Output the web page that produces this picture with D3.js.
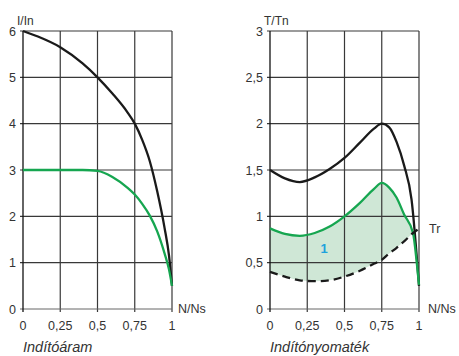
<!DOCTYPE html>
<html>
<head>
<meta charset="utf-8">
<script src="https://cdn.jsdelivr.net/npm/d3@7"></script>
<style>
body { margin: 0; background: #fff; }
text { font-family: "Liberation Sans", Arial, sans-serif; fill: #333; }
</style>
</head>
<body>
<script>
// starting current, I/In against N/Ns
var speedL = [0, 0.1, 0.25, 0.4, 0.5, 0.6, 0.7, 0.75, 0.8, 0.85, 0.9, 0.95, 0.98, 1];
var currentDirect = [6, 5.88, 5.65, 5.3, 5.0, 4.65, 4.25, 4.0, 3.65, 3.2, 2.55, 1.75, 1.15, 0.5];
var currentSoft = [3, 3, 3, 3, 2.98, 2.85, 2.62, 2.47, 2.27, 2.02, 1.68, 1.2, 0.85, 0.5];

// starting torque, T/Tn against N/Ns
var speedR1 = [0, 0.1, 0.2, 0.3, 0.4, 0.5, 0.6, 0.7, 0.75, 0.8, 0.85, 0.9, 0.95, 1];
var torqueDirect = [1.5, 1.41, 1.37, 1.42, 1.51, 1.63, 1.79, 1.95, 2.0, 1.96, 1.8, 1.55, 1.18, 0.25];
var speedR2 = [0, 0.1, 0.2, 0.3, 0.4, 0.5, 0.6, 0.7, 0.75, 0.8, 0.85, 0.9, 0.96, 0.985, 1];
var torqueSoft = [0.87, 0.81, 0.79, 0.82, 0.89, 1.0, 1.14, 1.3, 1.36, 1.31, 1.2, 1.02, 0.82, 0.5, 0.26];
var torqueLoad = [0.4, 0.35, 0.31, 0.3, 0.31, 0.35, 0.41, 0.49, 0.53, 0.6, 0.66, 0.73, 0.82, 0.85, 0.87];
var crossAt = 0.96;

var xTicks = [0, 0.25, 0.5, 0.75, 1];
var yTicksL = [0, 1, 2, 3, 4, 5, 6];
var yTicksR = [0, 0.5, 1, 1.5, 2, 2.5, 3];

var fmt = function(d){ return String(d).replace(".", ","); };

var svg = d3.select("body").append("svg")
	.attr("width", 459)
	.attr("height", 356);

function panel(x0, yMax, yTicks, yTitle, title, xTitleX){
	var x = d3.scaleLinear().domain([0, 1]).range([x0, x0 + 149]);
	var y = d3.scaleLinear().domain([0, yMax]).range([309, 31]);
	var g = svg.append("g");

	// grid
	g.selectAll(".vg").data(xTicks.slice(1)).enter().append("line")
		.attr("x1", function(d){ return x(d); })
		.attr("x2", function(d){ return x(d); })
		.attr("y1", y(yMax)).attr("y2", y(0) + 3)
		.attr("stroke", "#383838").attr("stroke-width", 1.2);
	g.selectAll(".hg").data(yTicks.slice(1)).enter().append("line")
		.attr("x1", x(0) - 3).attr("x2", x(1))
		.attr("y1", function(d){ return y(d); })
		.attr("y2", function(d){ return y(d); })
		.attr("stroke", "#383838").attr("stroke-width", 1.2);
	// x axis baseline
	g.append("line")
		.attr("x1", x(0) - 3).attr("x2", x(1))
		.attr("y1", y(0)).attr("y2", y(0))
		.attr("stroke", "#666").attr("stroke-width", 1);
	// y axis
	g.append("line")
		.attr("x1", x(0)).attr("x2", x(0))
		.attr("y1", y(yMax)).attr("y2", y(0) + 3)
		.attr("stroke", "#111").attr("stroke-width", 1.3);

	g.selectAll(".yl").data(yTicks).enter().append("text")
		.attr("x", x(0) - 7)
		.attr("y", function(d){ return y(d) + 4.5; })
		.attr("text-anchor", "end")
		.style("font-size", "12.5px")
		.text(fmt);
	g.selectAll(".xl").data(xTicks).enter().append("text")
		.attr("x", function(d){ return x(d); })
		.attr("y", 330)
		.attr("text-anchor", "middle")
		.style("font-size", "12.5px")
		.text(fmt);

	g.append("text").attr("x", x(0) - 6).attr("y", 25)
		.style("font-size", "12px").text(yTitle);
	g.append("text").attr("x", xTitleX).attr("y", 313)
		.style("font-size", "12.5px").text("N/Ns");
	g.append("text").attr("x", x(0)).attr("y", 352)
		.style("font-size", "14.5px").style("font-style", "italic").text(title);

	return {x: x, y: y, g: g};
}

function curve(p, xs, ys, color, dash){
	var line = d3.line()
		.x(function(d, i){ return p.x(xs[i]); })
		.y(function(d){ return p.y(d); })
		.curve(d3.curveMonotoneX);
	p.g.append("path")
		.attr("d", line(ys))
		.attr("fill", "none")
		.attr("stroke", color)
		.attr("stroke-width", 2.3)
		.attr("stroke-dasharray", dash || null);
}

var left = panel(23, 6, yTicksL, "I/In", "Indítóáram", 178);
curve(left, speedL, currentDirect, "#1a1a1a");
curve(left, speedL, currentSoft, "#16a650");

var right = panel(270, 3, yTicksR, "T/Tn", "Indítónyomaték", 428);

var band = speedR2.map(function(s, i){ return {s: s, top: torqueSoft[i], bot: torqueLoad[i]}; })
	.filter(function(d){ return d.s <= crossAt; });
var area = d3.area()
	.x(function(d){ return right.x(d.s); })
	.y0(function(d){ return right.y(d.bot); })
	.y1(function(d){ return right.y(d.top); })
	.curve(d3.curveMonotoneX);
right.g.insert("path", ":first-child")
	.attr("d", area(band))
	.attr("fill", "#cfe7d6");

curve(right, speedR1, torqueDirect, "#1a1a1a");
curve(right, speedR2, torqueSoft, "#16a650");
curve(right, speedR2, torqueLoad, "#1a1a1a", "8,5");

right.g.append("text").attr("x", 429).attr("y", 233)
	.style("font-size", "12.5px").text("Tr");
right.g.append("text").attr("x", 324).attr("y", 253)
	.attr("text-anchor", "middle")
	.style("font-size", "13px").style("font-weight", "bold")
	.style("fill", "#1ea2dc").text("1");
</script>
</body>
</html>
